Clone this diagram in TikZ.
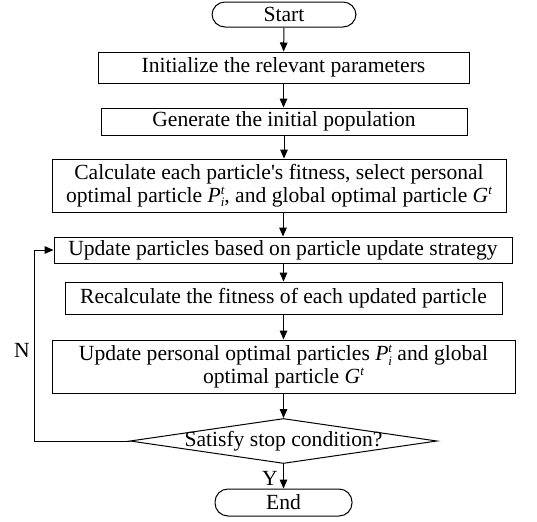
\documentclass[tikz,border=0pt]{standalone}
\usepackage{fontspec}
\setmainfont{Liberation Serif}
\usetikzlibrary{arrows.meta,shapes.geometric}

\newcommand{\idxfont}{\fontsize{6.5}{6.5}\selectfont\itshape}
\newcommand{\Pbest}{\textit{P}\rlap{\raisebox{0.36em}{\idxfont t}}\raisebox{-0.22em}{\idxfont i}}
\newcommand{\Gbest}{\textit{G}\raisebox{0.36em}{\idxfont t}}

\tikzset{
        box/.style={draw, rectangle, align=center, inner sep=0pt, line width=0.5pt},
        term/.style={box, rounded corners=6.5pt},
        cond/.style={draw, diamond, inner sep=0pt, line width=0.5pt},
        flow/.style={-{Triangle[length=4.5pt, width=3.8pt]}, line width=0.5pt}
}

\begin{document}
\begin{tikzpicture}[x=0.5pt, y=-0.5pt, font=\fontsize{10.8}{11.3}\selectfont]
        \useasboundingbox (0, 0) rectangle (537, 521);
        \node[term, minimum width=72pt, minimum height=12.5pt] (start) at (284, 14.5) {Start};
        \node[box, minimum width=185.5pt, minimum height=15.5pt] (init) at (283.5, 67.5)
                {Initialize the relevant parameters};
        \node[box, minimum width=183pt, minimum height=13.5pt] (gen) at (284, 121.5)
                {Generate the initial population};
        \node[box, minimum width=227pt, minimum height=26.5pt] (calc) at (279, 185.5)
                {Calculate each particle\textquotesingle s fitness, select personal\\
                 optimal particle \Pbest, and global optimal particle \Gbest};
        \node[box, minimum width=229pt, minimum height=13pt] (upd) at (283, 250)
                {Update particles based on particle update strategy};
        \node[box, minimum width=218.5pt, minimum height=16pt] (recalc) at (283.5, 298)
                {Recalculate the fitness of each updated particle};
        \node[box, minimum width=231.5pt, minimum height=26.5pt] (best) at (283.5, 366.5)
                {Update personal optimal particles \Pbest\ and global\\
                 optimal particle \Gbest};
        \node[cond, minimum width=153.5pt, minimum height=22.5pt] (stop) at (283.5, 441)
                {\makebox[0pt]{Satisfy stop condition?}};
        \node[term, minimum width=68.5pt, minimum height=13.5pt] (end) at (283.5, 502.5) {End};

        \draw[flow] (start) -- (init);
        \draw[flow] (init) -- (init.south |- gen.north);
        \draw[flow] (gen.south) -- (gen.south |- calc.north);
        \draw[flow] (calc.south -| upd.north) -- (upd.north);
        \draw[flow] (upd.south -| recalc.north) -- (recalc.north);
        \draw[flow] (recalc) -- (best);
        \draw[flow] (best) -- (stop);
        \draw[flow] (stop) -- (end);

        % loop back when the condition fails
        \draw[flow] (stop.west) -- ++(-95, 0) |- (upd.west);
        \node (no) at (22, 350) {N};
        \node (yes) at (270, 478) {Y};
\end{tikzpicture}
\end{document}
